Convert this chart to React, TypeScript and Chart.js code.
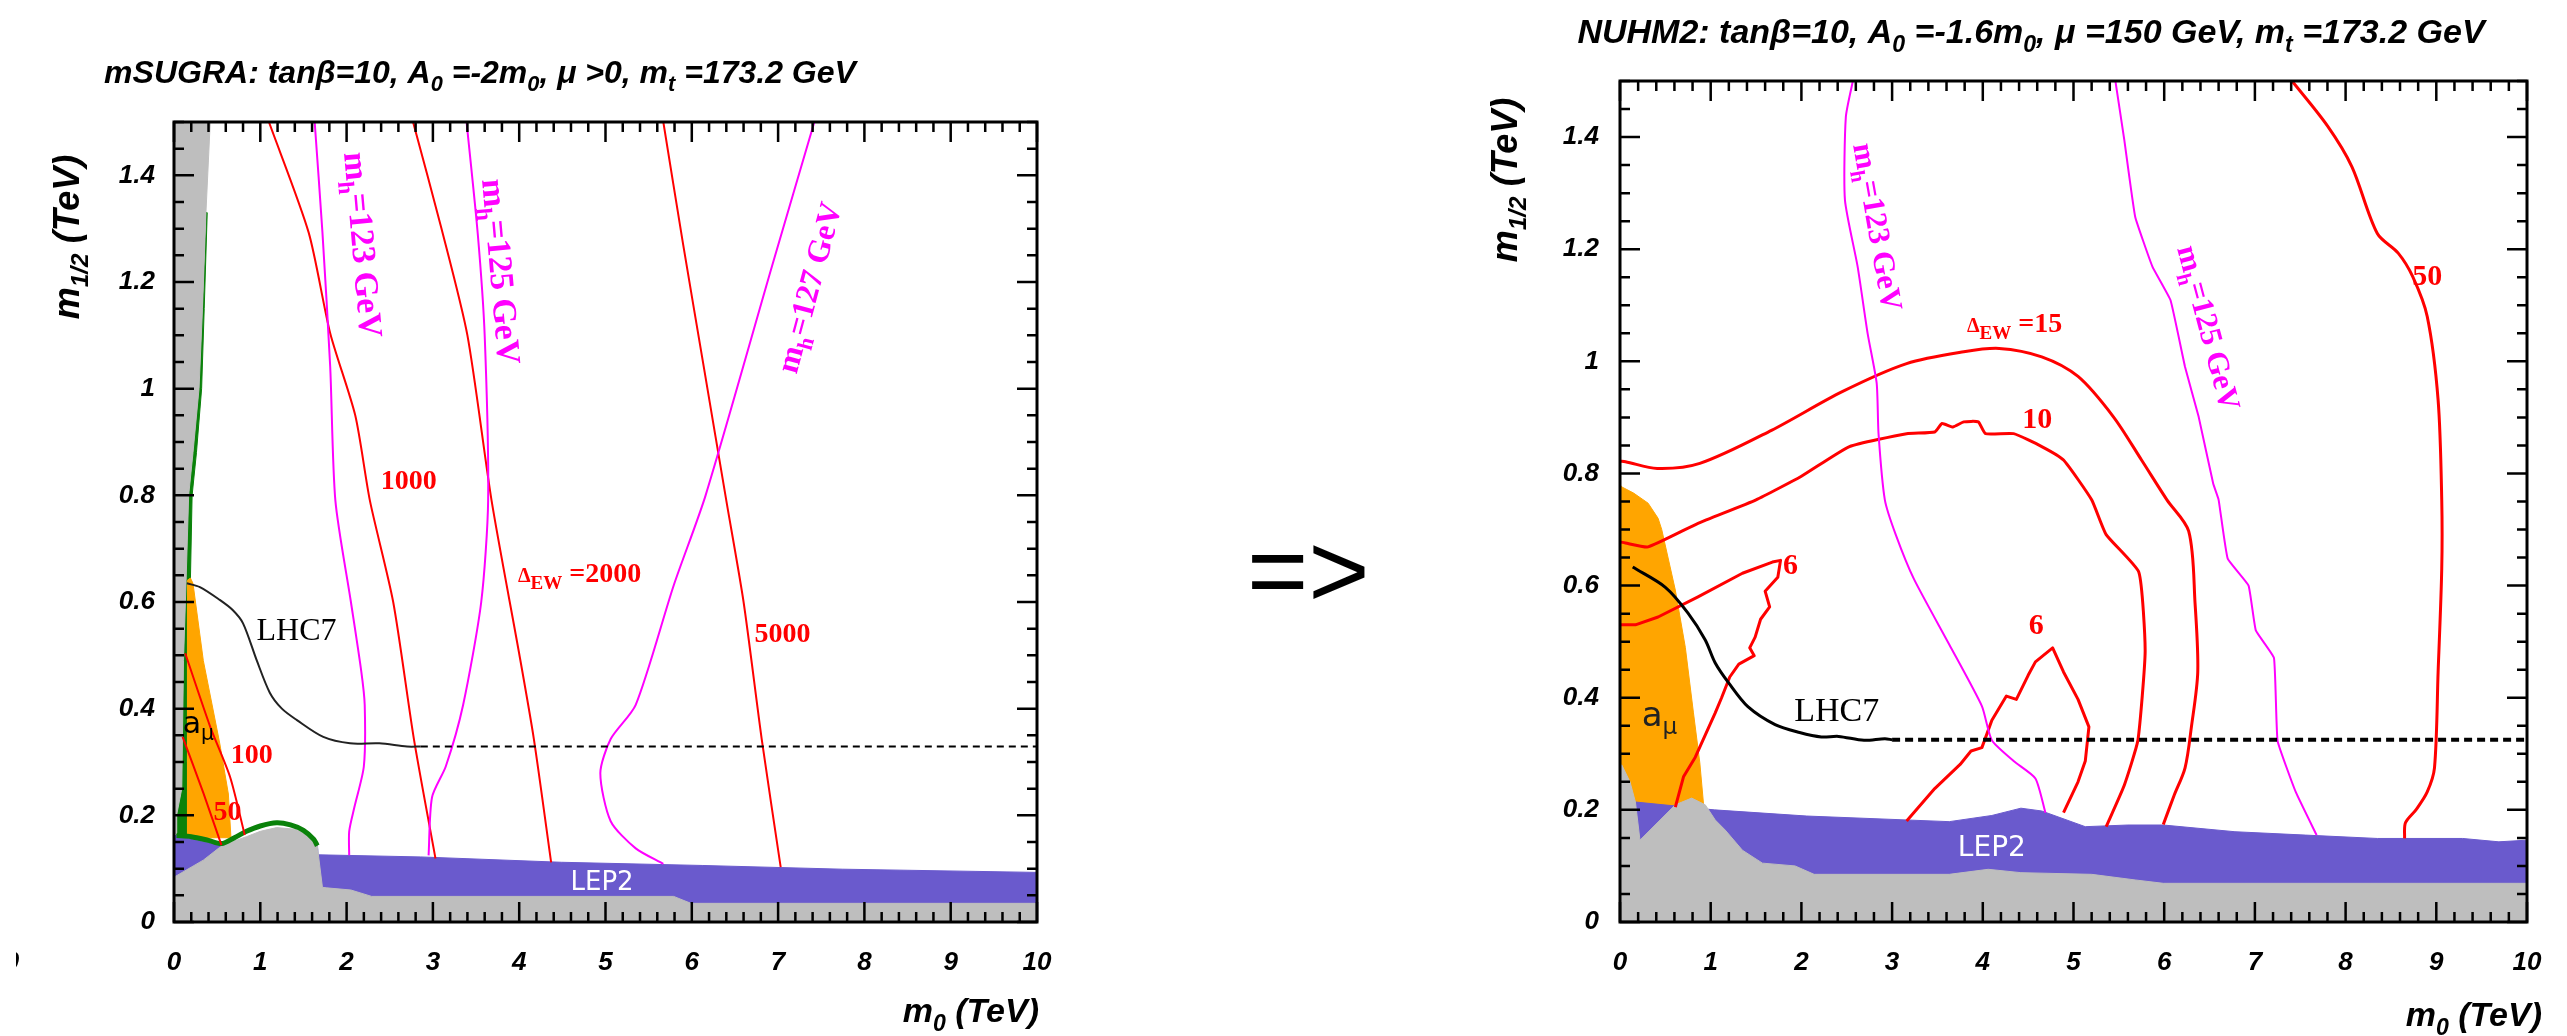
import React, { useEffect, useRef } from 'react';
import { Chart, registerables } from 'chart.js';
Chart.register(...registerables);

// ================= LEFT PANEL (mSUGRA), x = m0 [TeV], y = m1/2 [TeV] =================
const L_GRAY_STRIP_X = [0, 0.42, 0.37, 0.33, 0.29, 0.22, 0.17, 0.14, 0.11, 0.09, 0.03, 0.03, 0];
const L_GRAY_STRIP_Y = [1.5, 1.5, 1.33, 1.15, 1.0, 0.88, 0.8, 0.64, 0.49, 0.25, 0.2, 0.165, 0.165];
const L_GREEN_STRIP_X = [0.37, 0.385, 0.35, 0.32, 0.26, 0.21, 0.19, 0.16, 0.15, 0.15, 0.03, 0.03, 0.09, 0.11, 0.14, 0.17, 0.22, 0.29, 0.33];
const L_GREEN_STRIP_Y = [1.33, 1.33, 1.15, 1.0, 0.88, 0.8, 0.64, 0.49, 0.3, 0.16, 0.16, 0.2, 0.25, 0.49, 0.64, 0.8, 0.88, 1.0, 1.15];
const L_ORANGE_X = [0.15, 0.19, 0.22, 0.34, 0.53, 0.63, 0.66, 0.15];
const L_ORANGE_Y = [0.64, 0.645, 0.635, 0.49, 0.335, 0.24, 0.158, 0.158];
const L_BLUE_X = [0, 0.53, 0.8, 1.66, 1.67, 2.86, 4.49, 6.12, 7.75, 10];
const L_BLUE_Y = [0.163, 0.144, 0.15, 0.15, 0.126, 0.122, 0.112, 0.106, 0.099, 0.093];
const L_GRAY_X = [0, 0.34, 0.53, 0.7, 0.84, 1.0, 1.19, 1.4, 1.5, 1.6, 1.66, 1.72, 1.77, 2.05, 2.29, 5.79, 5.99, 10];
const L_GRAY_Y = [0.084, 0.116, 0.14, 0.152, 0.16, 0.17, 0.177, 0.174, 0.168, 0.158, 0.143, 0.065, 0.064, 0.06, 0.048, 0.048, 0.035, 0.035];
const L_GREEN_EDGE_X = [0.03, 0.2, 0.4, 0.55, 0.7, 0.84, 1.0, 1.19, 1.35, 1.5, 1.62, 1.66];
const L_GREEN_EDGE_Y = [0.162, 0.16, 0.153, 0.147, 0.158, 0.17, 0.18, 0.186, 0.182, 0.172, 0.155, 0.143];

const L_EW50_X = [0.1, 0.34, 0.55];
const L_EW50_Y = [0.347, 0.242, 0.144];
const L_EW100_X = [0.13, 0.42, 0.65, 0.82];
const L_EW100_Y = [0.504, 0.366, 0.272, 0.163];
const L_EW1000_X = [1.1, 1.56, 1.81, 2.1, 2.27, 2.54, 2.78, 3.03];
const L_EW1000_Y = [1.5, 1.293, 1.104, 0.95, 0.79, 0.6, 0.343, 0.119];
const L_EW2000_X = [2.77, 3.1, 3.4, 3.68, 4.0, 4.17, 4.37];
const L_EW2000_Y = [1.5, 1.3, 1.1, 0.79, 0.503, 0.343, 0.112];
const L_EW5000_X = [5.67, 5.9, 6.15, 6.4, 6.6, 6.81, 7.03];
const L_EW5000_Y = [1.5, 1.27, 1.03, 0.79, 0.6, 0.343, 0.103];

const L_MH123_X = [1.63, 1.72, 1.81, 1.87, 2.05, 2.17, 2.21, 2.2, 2.09, 2.03, 2.03];
const L_MH123_Y = [1.5, 1.293, 1.041, 0.79, 0.6, 0.47, 0.407, 0.292, 0.215, 0.17, 0.125];
const L_MH125_X = [3.39, 3.52, 3.6, 3.64, 3.56, 3.35, 3.15, 2.99, 2.95];
const L_MH125_Y = [1.5, 1.29, 1.1, 0.79, 0.6, 0.407, 0.292, 0.234, 0.125];
const L_MH127_X = [7.42, 6.93, 6.16, 5.79, 5.35, 5.06, 4.94, 5.06, 5.35, 5.67];
const L_MH127_Y = [1.5, 1.23, 0.8, 0.631, 0.407, 0.343, 0.279, 0.189, 0.138, 0.109];

const L_LHC7_X = [0.15, 0.3, 0.53, 0.68, 0.8, 0.96, 1.11, 1.25, 1.42, 1.73, 2.04, 2.38, 2.7, 2.86];
const L_LHC7_Y = [0.635, 0.628, 0.604, 0.585, 0.56, 0.49, 0.43, 0.4, 0.379, 0.347, 0.335, 0.335, 0.329, 0.329];
const L_LHC7_DASH_X = [2.86, 10];
const L_LHC7_DASH_Y = [0.329, 0.329];

// ================= RIGHT PANEL (NUHM2) =================
const R_ORANGE_X = [0, 0.02, 0.15, 0.31, 0.42, 0.46, 0.61, 0.72, 0.81, 0.88, 0.92, 0.92, 0];
const R_ORANGE_Y = [0.78, 0.776, 0.765, 0.747, 0.72, 0.7, 0.592, 0.49, 0.373, 0.284, 0.212, 0.19, 0.19];
const R_BLUE_X = [0, 0.17, 1.04, 2.06, 3.16, 3.63, 4.1, 4.42, 4.65, 5.13, 5.6, 5.99, 6.78, 7.56, 8.35, 9.29, 9.69, 10];
const R_BLUE_Y = [0.214, 0.214, 0.2, 0.189, 0.182, 0.179, 0.19, 0.203, 0.198, 0.17, 0.173, 0.173, 0.161, 0.155, 0.149, 0.149, 0.143, 0.146];
const R_GRAY_X = [0, 0.02, 0.11, 0.17, 0.22, 0.61, 0.79, 0.94, 1.05, 1.16, 1.35, 1.57, 1.93, 2.14, 3.63, 4.06, 4.42, 5.2, 5.68, 5.99, 10];
const R_GRAY_Y = [0.28, 0.28, 0.25, 0.214, 0.146, 0.209, 0.221, 0.209, 0.182, 0.164, 0.128, 0.105, 0.1, 0.085, 0.085, 0.094, 0.088, 0.085, 0.075, 0.069, 0.069];

const R_EW50_X = [7.41, 7.8, 8.07, 8.35, 8.58, 8.74, 8.9, 9.02, 9.06, 9.06, 9.02, 8.98, 8.9, 8.78, 8.66, 8.65];
const R_EW50_Y = [1.5, 1.42, 1.347, 1.228, 1.193, 1.151, 1.08, 0.931, 0.753, 0.63, 0.446, 0.275, 0.232, 0.201, 0.177, 0.149];
const R_EW15_X = [0.0, 0.06, 0.41, 0.88, 1.67, 2.45, 3.16, 3.79, 4.18, 4.65, 5.05, 5.44, 5.75, 6.03, 6.27, 6.34, 6.37, 6.3, 6.23, 6.11, 5.99];
const R_EW15_Y = [0.822, 0.821, 0.809, 0.818, 0.877, 0.946, 0.996, 1.017, 1.023, 1.008, 0.973, 0.901, 0.824, 0.753, 0.697, 0.569, 0.446, 0.348, 0.275, 0.226, 0.174];
const R_EW10_X = [0.0, 0.06, 0.31, 0.86, 1.5, 2.0, 2.53, 3.16, 3.47, 3.55, 3.67, 3.79, 3.95, 4.03, 4.34, 4.65, 4.89, 5.2, 5.36, 5.72, 5.79, 5.71, 5.56, 5.36];
const R_EW10_Y = [0.678, 0.676, 0.669, 0.711, 0.753, 0.795, 0.848, 0.871, 0.874, 0.889, 0.883, 0.892, 0.892, 0.871, 0.871, 0.848, 0.824, 0.753, 0.691, 0.624, 0.483, 0.324, 0.244, 0.17];
const R_EW6A_X = [0, 0.17, 0.42, 0.86, 1.35, 1.68, 1.77, 1.74, 1.6, 1.65, 1.55, 1.49, 1.43, 1.48, 1.31, 1.21, 1.12, 1.05, 0.83, 0.7, 0.61];
const R_EW6A_Y = [0.53, 0.53, 0.544, 0.58, 0.622, 0.642, 0.645, 0.615, 0.59, 0.562, 0.54, 0.508, 0.489, 0.475, 0.46, 0.437, 0.4, 0.373, 0.294, 0.259, 0.205];
const R_EW6B_X = [3.16, 3.47, 3.75, 3.87, 3.99, 4.1, 4.26, 4.37, 4.5, 4.58, 4.77, 4.89, 5.05, 5.17, 5.13, 5.05, 4.89];
const R_EW6B_Y = [0.18, 0.238, 0.281, 0.305, 0.311, 0.36, 0.403, 0.397, 0.44, 0.464, 0.489, 0.446, 0.397, 0.348, 0.287, 0.25, 0.195];

const R_MH123_X = [2.57, 2.49, 2.48, 2.62, 2.73, 2.83, 2.85, 2.92, 3.04, 3.24, 3.63, 3.99, 4.1, 4.34, 4.58, 4.69];
const R_MH123_Y = [1.502, 1.436, 1.288, 1.169, 1.05, 0.961, 0.872, 0.753, 0.691, 0.612, 0.495, 0.385, 0.324, 0.287, 0.256, 0.195];
const R_MH125_X = [5.46, 5.56, 5.68, 5.87, 6.07, 6.23, 6.38, 6.54, 6.6, 6.7, 6.93, 7.01, 7.21, 7.25, 7.45, 7.68];
const R_MH125_Y = [1.502, 1.395, 1.258, 1.169, 1.109, 0.99, 0.901, 0.782, 0.753, 0.648, 0.6, 0.52, 0.471, 0.323, 0.232, 0.155];

const R_LHC7_X = [0.14, 0.5, 0.75, 0.94, 1.05, 1.2, 1.41, 1.71, 1.98, 2.22, 2.41, 2.69, 2.92, 3.0];
const R_LHC7_Y = [0.633, 0.597, 0.551, 0.503, 0.462, 0.426, 0.384, 0.352, 0.338, 0.33, 0.331, 0.324, 0.327, 0.325];
const R_LHC7_DASH_X = [3.0, 10];
const R_LHC7_DASH_Y = [0.325, 0.325];

// ================= axes =================
const X_MIN = 0, X_MAX = 10, X_STEP = 1;
const Y_MIN = 0, Y_MAX = 1.5, Y_STEP = 0.2;

// ================= styling =================
const RED = '#ff0000', MAG = '#ff00ff', ORANGE = '#ffa500', BLUE = '#6a5acd', GRAY = '#bebebe', GREEN = '#0a820a';
const HELV = "'Liberation Sans', Arial, sans-serif";
const SERIF = "'Liberation Serif', 'Times New Roman', serif";
const SANS = "'DejaVu Sans', sans-serif";
const TICK_FONT = { family: HELV, size: 26, style: 'italic' as const, weight: 'bold' as const };

type Part = [string, number?];
interface Label { parts: Part[]; x: number; y: number; size: number; family: string; weight?: string; color: string; rot?: number; align?: 'left' | 'center' }
interface Decor {
  title: Part[]; titleSize: number; titleDX: number; titleDY: number;
  axisSize: number; yTitleDX: number; yTitleDY: number; xTitleDX: number; xTitleDY: number;
  labels: Label[]; clippedZero?: boolean;
}

const pts = (xs: number[], ys: number[]) => xs.map((x, i) => ({ x, y: ys[i] }));
const area = (xs: number[], ys: number[], color: string, fill: any, order: number) => ({
  data: pts(xs, ys), borderColor: color, backgroundColor: color, borderWidth: 1, fill, pointRadius: 0, tension: 0, order,
});
const curve = (xs: number[], ys: number[], color: string, width: number, order: number, tension = 0.25, dash: number[] = []) => ({
  data: pts(xs, ys), borderColor: color, backgroundColor: color, borderWidth: width, fill: false, pointRadius: 0,
  tension, order, borderDash: dash, borderJoinStyle: 'round' as const,
});

function drawRich(ctx: CanvasRenderingContext2D, parts: Part[], size: number, family: string, weight: string, style: string, color: string,
  x: number, y: number, align: 'left' | 'center' | 'right', rot = 0, mid = false) {
  ctx.save();
  ctx.translate(x, y);
  if (rot) ctx.rotate((rot * Math.PI) / 180);
  const sz = (k?: number) => (k === 1 ? size * 0.68 : k === 2 ? size * 0.72 : size);
  const font = (s: number) => `${style} ${weight} ${s}px ${family}`;
  let w = 0;
  const ws = parts.map(([t, k]) => { ctx.font = font(sz(k)); const m = ctx.measureText(t).width; w += m; return m; });
  let cx = align === 'center' ? -w / 2 : align === 'right' ? -w : 0;
  const by = mid ? size * 0.35 : 0;
  ctx.fillStyle = color;
  ctx.textAlign = 'left';
  ctx.textBaseline = 'alphabetic';
  parts.forEach(([t, k], i) => {
    ctx.font = font(sz(k));
    ctx.fillText(t, cx, by + (k === 1 ? size * 0.25 : 0));
    cx += ws[i];
  });
  ctx.restore();
}

function decorPlugin(d: Decor) {
  return {
    id: 'decor',
    afterDraw(chart: any) {
      const { ctx, chartArea: a, scales } = chart;
      const xs = scales.x, ys = scales.y;
      ctx.save();
      // inner ticks on all four sides
      ctx.strokeStyle = '#000';
      ctx.lineWidth = 2.5;
      ctx.beginPath();
      for (let i = 0; i <= 50; i++) {
        const px = xs.getPixelForValue(i * 0.2);
        const len = i % 5 === 0 ? 20 : 10;
        ctx.moveTo(px, a.bottom); ctx.lineTo(px, a.bottom - len);
        ctx.moveTo(px, a.top); ctx.lineTo(px, a.top + len);
      }
      for (let i = 0; i <= 30; i++) {
        const py = ys.getPixelForValue(i * 0.05);
        const len = i % 4 === 0 ? 20 : 10;
        ctx.moveTo(a.left, py); ctx.lineTo(a.left + len, py);
        ctx.moveTo(a.right, py); ctx.lineTo(a.right - len, py);
      }
      ctx.stroke();
      ctx.lineWidth = 3;
      ctx.strokeRect(a.left, a.top, a.right - a.left, a.bottom - a.top);

      // in-plot labels
      for (const l of d.labels) {
        drawRich(ctx, l.parts, l.size, l.family, l.weight || 'normal', 'normal', l.color,
          xs.getPixelForValue(l.x), ys.getPixelForValue(l.y), l.align || 'center', l.rot || 0, true);
      }
      // title
      drawRich(ctx, d.title, d.titleSize, HELV, 'bold', 'italic', '#000', a.left + d.titleDX, a.top + d.titleDY, 'center');
      // axis titles
      drawRich(ctx, [['m'], ['1/2', 1], [' (TeV)']], d.axisSize, HELV, 'bold', 'italic', '#000',
        a.left + d.yTitleDX, a.top + d.yTitleDY, 'center', -90, true);
      drawRich(ctx, [['m'], ['0', 1], [' (TeV)']], 34, HELV, 'bold', 'italic', '#000',
        a.right + d.xTitleDX, a.bottom + d.xTitleDY, 'right');
      if (d.clippedZero) {
        ctx.save();
        ctx.beginPath();
        ctx.rect(16, 930, 40, 70);
        ctx.clip();
        ctx.font = `italic bold 26px ${HELV}`;
        ctx.fillStyle = '#000';
        ctx.textAlign = 'center';
        ctx.textBaseline = 'middle';
        ctx.fillText('0', 12, 963);
        ctx.restore();
      }
      ctx.restore();
    },
  };
}

function buildConfig(datasets: any[], decor: Decor, padding: any, yPad: number): any {
  return {
    type: 'line',
    data: { datasets },
    plugins: [decorPlugin(decor)],
    options: {
      responsive: false,
      maintainAspectRatio: false,
      animation: false,
      events: [],
      layout: { padding },
      plugins: { legend: { display: false }, tooltip: { enabled: false }, title: { display: false } },
      scales: {
        x: {
          type: 'linear', min: X_MIN, max: X_MAX,
          afterFit: (s: any) => { s.height = 60; },
          grid: { display: false, drawTicks: false }, border: { display: false },
          ticks: { stepSize: X_STEP, autoSkip: false, maxRotation: 0, includeBounds: false, padding: 25, color: '#000', font: TICK_FONT,
            callback: (v: any) => String(Math.round(v)) },
        },
        y: {
          type: 'linear', min: Y_MIN, max: Y_MAX,
          afterFit: (s: any) => { s.width = 80; },
          grid: { display: false, drawTicks: false }, border: { display: false },
          ticks: { stepSize: Y_STEP, autoSkip: false, includeBounds: false, padding: yPad, color: '#000', font: TICK_FONT,
            callback: (v: any) => String(Math.round(v * 10) / 10) },
        },
      },
    },
  };
}

const LEFT_DATASETS = [
  area(L_GREEN_STRIP_X, L_GREEN_STRIP_Y, GREEN, 'shape', 30),
  area(L_GRAY_STRIP_X, L_GRAY_STRIP_Y, GRAY, 'shape', 29),
  area(L_ORANGE_X, L_ORANGE_Y, ORANGE, 'shape', 28),
  area(L_BLUE_X, L_BLUE_Y, BLUE, 'origin', 27),
  area(L_GRAY_X, L_GRAY_Y, GRAY, 'origin', 26),
  curve(L_GREEN_EDGE_X, L_GREEN_EDGE_Y, GREEN, 5, 25, 0.3),
  curve(L_EW50_X, L_EW50_Y, RED, 2, 5),
  curve(L_EW100_X, L_EW100_Y, RED, 2, 5),
  curve(L_EW1000_X, L_EW1000_Y, RED, 2, 5),
  curve(L_EW2000_X, L_EW2000_Y, RED, 2, 5),
  curve(L_EW5000_X, L_EW5000_Y, RED, 2, 5),
  curve(L_MH123_X, L_MH123_Y, MAG, 2, 4),
  curve(L_MH125_X, L_MH125_Y, MAG, 2, 4),
  curve(L_MH127_X, L_MH127_Y, MAG, 2, 4),
  curve(L_LHC7_X, L_LHC7_Y, '#222', 2, 3, 0.3),
  curve(L_LHC7_DASH_X, L_LHC7_DASH_Y, '#000', 2, 3, 0, [7, 5]),
];

const RIGHT_DATASETS = [
  area(R_ORANGE_X, R_ORANGE_Y, ORANGE, 'shape', 30),
  area(R_BLUE_X, R_BLUE_Y, BLUE, 'origin', 29),
  area(R_GRAY_X, R_GRAY_Y, GRAY, 'origin', 28),
  curve(R_EW50_X, R_EW50_Y, RED, 3, 5, 0.3),
  curve(R_EW15_X, R_EW15_Y, RED, 3, 5, 0.3),
  curve(R_EW10_X, R_EW10_Y, RED, 3, 5, 0.15),
  curve(R_EW6A_X, R_EW6A_Y, RED, 3, 5, 0),
  curve(R_EW6B_X, R_EW6B_Y, RED, 3, 5, 0),
  curve(R_MH123_X, R_MH123_Y, MAG, 2, 4, 0.2),
  curve(R_MH125_X, R_MH125_Y, MAG, 2, 4, 0.1),
  curve(R_LHC7_X, R_LHC7_Y, '#000', 3, 3, 0.3),
  curve(R_LHC7_DASH_X, R_LHC7_DASH_Y, '#000', 4, 3, 0, [8, 5]),
];

const LEFT_DECOR: Decor = {
  title: [['mSUGRA: tanβ=10, A'], ['0', 1], [' =-2m'], ['0', 1], [', μ >0, m'], ['t', 1], [' =173.2 GeV']],
  titleSize: 32, titleDX: 306, titleDY: -39,
  axisSize: 36, yTitleDX: -108, yTitleDY: 115,
  xTitleDX: 2, xTitleDY: 100,
  clippedZero: true,
  labels: [
    { parts: [['1000']], x: 2.72, y: 0.83, size: 28, family: SERIF, weight: 'bold', color: RED },
    { parts: [['Δ', 2], ['EW', 1], [' =2000']], x: 4.7, y: 0.655, size: 28, family: SERIF, weight: 'bold', color: RED },
    { parts: [['5000']], x: 7.05, y: 0.543, size: 28, family: SERIF, weight: 'bold', color: RED },
    { parts: [['100']], x: 0.9, y: 0.317, size: 28, family: SERIF, weight: 'bold', color: RED },
    { parts: [['50']], x: 0.62, y: 0.21, size: 28, family: SERIF, weight: 'bold', color: RED },
    { parts: [['LHC7']], x: 1.42, y: 0.55, size: 32, family: SERIF, color: '#000' },
    { parts: [['a'], ['μ', 1]], x: 0.1, y: 0.375, size: 30, family: SANS, color: '#000', align: 'left' },
    { parts: [['LEP2']], x: 4.96, y: 0.078, size: 26, family: SANS, color: '#ffffff' },
    { parts: [['m'], ['h', 1], ['=123 GeV']], x: 2.2, y: 1.27, size: 34, family: SERIF, weight: 'bold', color: MAG, rot: 85 },
    { parts: [['m'], ['h', 1], ['=125 GeV']], x: 3.8, y: 1.22, size: 34, family: SERIF, weight: 'bold', color: MAG, rot: 85 },
    { parts: [['m'], ['h', 1], ['=127 GeV']], x: 7.35, y: 1.19, size: 32, family: SERIF, weight: 'bold', color: MAG, rot: -75 },
  ],
};

const RIGHT_DECOR: Decor = {
  title: [['NUHM2: tanβ=10, A'], ['0', 1], [' =-1.6m'], ['0', 1], [', μ =150 GeV, m'], ['t', 1], [' =173.2 GeV']],
  titleSize: 34, titleDX: 411, titleDY: -38,
  axisSize: 36, yTitleDX: -116, yTitleDY: 99,
  xTitleDX: 15, xTitleDY: 104,
  labels: [
    { parts: [['50']], x: 8.9, y: 1.154, size: 30, family: SERIF, weight: 'bold', color: RED },
    { parts: [['Δ', 2], ['EW', 1], [' =15']], x: 4.35, y: 1.07, size: 28, family: SERIF, weight: 'bold', color: RED },
    { parts: [['10']], x: 4.6, y: 0.9, size: 30, family: SERIF, weight: 'bold', color: RED },
    { parts: [['6']], x: 1.88, y: 0.639, size: 30, family: SERIF, weight: 'bold', color: RED },
    { parts: [['6']], x: 4.59, y: 0.533, size: 30, family: SERIF, weight: 'bold', color: RED },
    { parts: [['LHC7']], x: 2.39, y: 0.38, size: 34, family: SERIF, color: '#000' },
    { parts: [['a'], ['μ', 1]], x: 0.24, y: 0.371, size: 34, family: SANS, color: '#222', align: 'left' },
    { parts: [['LEP2']], x: 4.1, y: 0.135, size: 28, family: SANS, color: '#ffffff' },
    { parts: [['m'], ['h', 1], ['=123 GeV']], x: 2.85, y: 1.24, size: 31, family: SERIF, weight: 'bold', color: MAG, rot: 80 },
    { parts: [['m'], ['h', 1], ['=125 GeV']], x: 6.5, y: 1.06, size: 31, family: SERIF, weight: 'bold', color: MAG, rot: 75 },
  ],
};

export default function App() {
  const leftRef = useRef<HTMLCanvasElement>(null);
  const rightRef = useRef<HTMLCanvasElement>(null);
  useEffect(() => {
    const c1 = new Chart(leftRef.current!, buildConfig(LEFT_DATASETS, LEFT_DECOR, { left: 94, right: 213, top: 122, bottom: 54 }, 19));
    const c2 = new Chart(rightRef.current!, buildConfig(RIGHT_DATASETS, RIGHT_DECOR, { left: 140, right: 40, top: 81, bottom: 54 }, 21));
    return () => { c1.destroy(); c2.destroy(); };
  }, []);
  return (
    <div style={{ position: 'absolute', left: 0, top: 0, width: 2567, height: 1036, background: '#fff', overflow: 'hidden' }}>
      <canvas ref={leftRef} width={1250} height={1036} style={{ position: 'absolute', left: 0, top: 0 }} />
      <div style={{ position: 'absolute', left: 1247, top: 518, fontFamily: HELV, fontSize: 105, lineHeight: '105px', color: '#000', whiteSpace: 'nowrap' }}>=&gt;</div>
      <canvas ref={rightRef} width={1167} height={1036} style={{ position: 'absolute', left: 1400, top: 0 }} />
    </div>
  );
}
